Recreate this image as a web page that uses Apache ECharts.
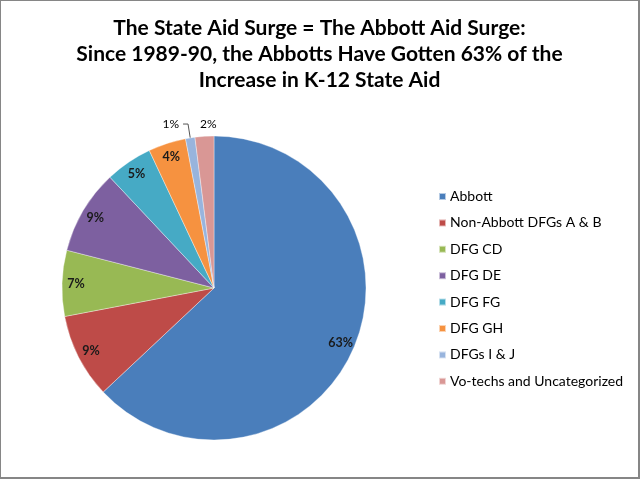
<!DOCTYPE html>
<html>
<head>
<meta charset="utf-8">
<script src="https://cdn.jsdelivr.net/npm/echarts@6/dist/echarts.min.js"></script>
<style>
html,body{margin:0;padding:0;background:#fff;}
#c{width:640px;height:479px;box-sizing:border-box;border:1px solid #868686;border-right-width:2px;border-bottom-width:2px;}
</style>
</head>
<body>
<div id="c"></div>
<script>
const categories = ['Abbott','Non-Abbott DFGs A & B','DFG CD','DFG DE','DFG FG','DFG GH','DFGs I & J','Vo-techs and Uncategorized'];
const shares = [63, 9, 7, 9, 5, 4, 1, 2];
const colors = ['#4A7EBB','#BE4B48','#98B954','#7D60A0','#46AAC5','#F69240','#98B4DD','#D99795'];
const titleLines = ['The State Aid Surge = The Abbott Aid Surge:','Since 1989-90, the Abbotts Have Gotten 63% of the','Increase in K-12 State Aid'];
const outsideLabelIdx = [6, 7];

const chart = echarts.init(document.getElementById('c'));
const center = [213, 287];

const mainData = categories.map((n, i) => {
  const d = {name: n, value: shares[i], itemStyle: {color: colors[i]}};
  if (outsideLabelIdx.includes(i)) {
    d.label = {show: true};
    d.labelLine = i === 6 ? {show: true, length: 14, length2: 5} : {show: false, length: 12, length2: 0};
  }
  return d;
});
const labelData = categories.map((n, i) => ({
  name: n, value: shares[i],
  label: {show: !outsideLabelIdx.includes(i)}
}));

chart.setOption({
  animation: false,
  title: {
    text: titleLines.join('\n'),
    left: 'center', top: 9,
    textStyle: {fontFamily: 'Lato', fontWeight: 'bold', fontSize: 21, lineHeight: 26, color: '#000'}
  },
  legend: {
    orient: 'vertical', left: 432, top: 183,
    icon: 'rect', itemWidth: 7, itemHeight: 7, itemGap: 11.4,
    data: categories,
    textStyle: {fontFamily: 'Lato', fontSize: 14, lineHeight: 15, color: '#000', padding: [0,0,0,-1]}
  },
  series: [
    {
      type: 'pie', center: center, radius: [0, 152],
      startAngle: 90, clockwise: true, avoidLabelOverlap: false,
      itemStyle: {borderColor: 'rgba(255,255,255,0.6)', borderWidth: 0.6},
      label: {show: false, position: 'outside', formatter: '{d}%', fontFamily: 'Lato', fontSize: 12, color: '#000', distanceToLabelLine: 4},
      labelLine: {lineStyle: {color: '#555', width: 1}},
      labelLayout: function (p) { if (p.dataIndex === 7) return {dx: 17}; },
      percentPrecision: 0,
      emphasis: {disabled: true},
      data: mainData
    },
    {
      type: 'pie', center: center, radius: [0, 270],
      startAngle: 90, clockwise: true, silent: true,
      itemStyle: {color: 'transparent'},
      label: {position: 'inside', formatter: '{d}%', fontFamily: 'Lato', fontWeight: 'bold', fontSize: 12.5, color: '#1a1a1a'},
      labelLine: {show: false},
      percentPrecision: 0,
      emphasis: {disabled: true},
      data: labelData
    }
  ]
});
</script>
</body>
</html>
